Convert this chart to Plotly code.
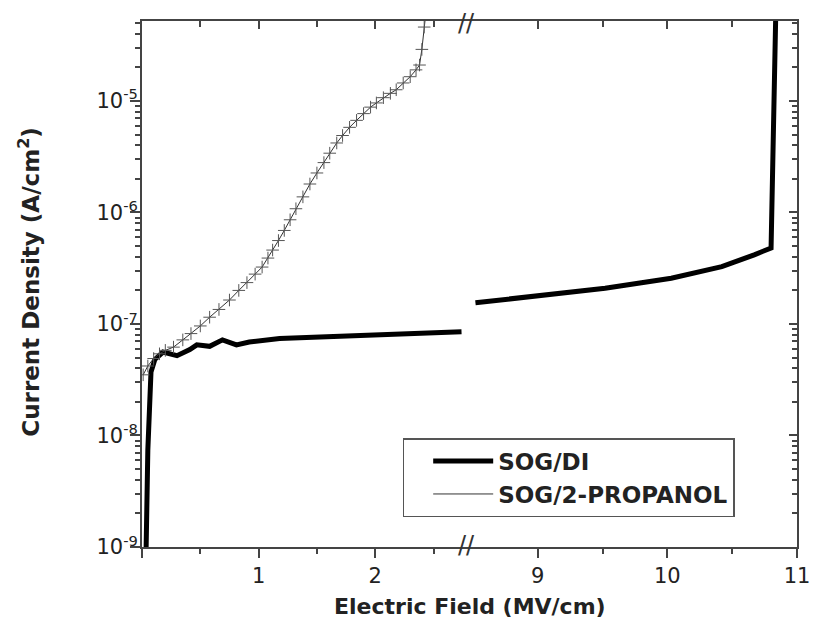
import plotly.graph_objects as go

# ---------------- data ----------------
di_left_x = [0.034, 0.05, 0.077, 0.11, 0.18, 0.30, 0.41, 0.47, 0.58, 0.69, 0.81, 0.92,
             1.18, 1.35, 1.6, 2.2, 2.74]
di_left_y = [8e-10, 7.4e-9, 3.7e-8, 4.8e-8, 5.6e-8, 5.2e-8, 5.9e-8, 6.5e-8, 6.3e-8, 7.2e-8,
             6.5e-8, 6.9e-8, 7.4e-8, 7.5e-8, 7.6e-8, 8.1e-8, 8.5e-8]

di_right_x = [8.52, 9.0, 9.52, 10.03, 10.42, 10.67, 10.80, 10.84]
di_right_y = [1.55e-7, 1.78e-7, 2.09e-7, 2.57e-7, 3.27e-7, 4.17e-7, 4.8e-7, 1e-4]

prop_x = [0.01, 0.05, 0.10, 0.15, 0.20, 0.27, 0.35, 0.42, 0.50, 0.58, 0.66, 0.75, 0.83,
          0.90, 0.97, 1.03, 1.08, 1.12, 1.17, 1.22, 1.27, 1.32, 1.38, 1.44, 1.50, 1.56,
          1.61, 1.67, 1.72, 1.78, 1.84, 1.90, 1.96, 2.01, 2.07, 2.13, 2.18, 2.24, 2.30,
          2.35, 2.38, 2.40, 2.42, 2.44]
prop_y = [3.5e-8, 4.2e-8, 4.9e-8, 5.4e-8, 5.8e-8, 6.2e-8, 7.2e-8, 8.2e-8, 9.6e-8, 1.15e-7,
          1.35e-7, 1.64e-7, 2.0e-7, 2.35e-7, 2.8e-7, 3.24e-7, 3.9e-7, 4.6e-7, 5.6e-7, 6.9e-7,
          8.6e-7, 1.08e-6, 1.38e-6, 1.8e-6, 2.26e-6, 2.8e-6, 3.4e-6, 4.2e-6, 4.9e-6, 5.8e-6,
          6.7e-6, 7.7e-6, 8.8e-6, 9.6e-6, 1.07e-5, 1.17e-5, 1.26e-5, 1.45e-5, 1.65e-5, 1.9e-5,
          2.1e-5, 2.9e-5, 4.6e-5, 7e-5]

x_left_ticks = [0, 1, 2]
x_left_labels = ["", "1", "2"]
x_left_minor = [0.5, 1.5, 2.5]
x_right_ticks = [9, 10, 11]
x_right_labels = ["9", "10", "11"]
x_right_minor = [9.5, 10.5]
y_ticks = [1e-9, 1e-8, 1e-7, 1e-6, 1e-5]
y_labels = ["10<sup>-9</sup>", "10<sup>-8</sup>", "10<sup>-7</sup>", "10<sup>-6</sup>", "10<sup>-5</sup>"]
y_minor = [m * 10 ** e for e in range(-9, -4) for m in range(2, 10)]

# ---------------- figure ----------------
FONT = "DejaVu Sans, Liberation Sans, Arial, sans-serif"
AX = "#444444"
BREAK = 0.496
XL_RANGE = [0, 2.786]
XR_RANGE = [8.454, 11]
Y_RANGE = [-9, -4.283]

fig = go.Figure()

fig.add_trace(go.Scatter(x=di_left_x, y=di_left_y, mode="lines", name="SOG/DI",
                         line=dict(color="black", width=5), xaxis="x", yaxis="y",
                         legendgroup="di"))
fig.add_trace(go.Scatter(x=di_right_x, y=di_right_y, mode="lines", name="SOG/DI",
                         line=dict(color="black", width=5), xaxis="x2", yaxis="y",
                         legendgroup="di", showlegend=False))
fig.add_trace(go.Scatter(x=prop_x, y=prop_y, mode="lines", name="SOG/2-PROPANOL",
                         line=dict(color="#333333", width=1), xaxis="x", yaxis="y"))
# markers of the same series, drawn through the (identical) mirrored top axis
fig.add_trace(go.Scatter(x=prop_x, y=prop_y, mode="markers", name="SOG/2-PROPANOL",
                         marker=dict(symbol="cross-thin", size=9,
                                     line=dict(color="#555555", width=1)),
                         xaxis="x3", yaxis="y", showlegend=False))
# empty trace so the mirrored top-right / right axes are drawn
fig.add_trace(go.Scatter(x=[], y=[], mode="lines", xaxis="x4", yaxis="y2",
                         showlegend=False, hoverinfo="skip"))

tickfont = dict(family=FONT, size=21, color="#222222")
common = dict(showline=True, linecolor=AX, linewidth=2, showgrid=False, zeroline=False,
              tickcolor=AX, tickwidth=1.5)

# page body adds an 8px offset, so the figure is shrunk by 8px and margins shifted
fig.update_layout(
    width=814, height=620,
    margin=dict(l=134, r=23, t=13, b=81),
    paper_bgcolor="white", plot_bgcolor="white",
    xaxis=dict(domain=[0, BREAK], range=XL_RANGE, anchor="y",
               tickmode="array", tickvals=x_left_ticks, ticktext=x_left_labels,
               ticks="outside", ticklen=9, tickfont=tickfont,
               minor=dict(tickmode="array", tickvals=x_left_minor, ticks="outside",
                          ticklen=5, tickcolor=AX, showgrid=False),
               **common),
    xaxis2=dict(domain=[BREAK, 1], range=XR_RANGE, anchor="y",
                tickmode="array", tickvals=x_right_ticks, ticktext=x_right_labels,
                ticks="outside", ticklen=9, tickfont=tickfont,
                minor=dict(tickmode="array", tickvals=x_right_minor, ticks="outside",
                           ticklen=5, tickcolor=AX, showgrid=False),
                **common),
    xaxis3=dict(overlaying="x", side="top", anchor="y", range=XL_RANGE,
                tickmode="array", tickvals=x_left_ticks, ticks="inside", ticklen=8,
                showticklabels=False,
                minor=dict(tickmode="array", tickvals=x_left_minor, ticks="inside",
                           ticklen=6, tickcolor=AX, showgrid=False),
                **common),
    xaxis4=dict(overlaying="x2", side="top", anchor="y2", range=XR_RANGE,
                tickmode="array", tickvals=x_right_ticks, ticks="inside", ticklen=8,
                showticklabels=False,
                minor=dict(tickmode="array", tickvals=x_right_minor, ticks="inside",
                           ticklen=6, tickcolor=AX, showgrid=False),
                **common),
    yaxis=dict(type="log", range=Y_RANGE, anchor="x",
               tickmode="array", tickvals=y_ticks, ticktext=y_labels,
               ticks="outside", ticklen=10, tickfont=tickfont, ticklabelstandoff=-12,
               minor=dict(tickmode="array", tickvals=y_minor, ticks="outside",
                          ticklen=5, tickcolor=AX, showgrid=False),
               **common),
    yaxis2=dict(type="log", range=Y_RANGE, overlaying="y", side="right", anchor="x2",
                tickmode="array", tickvals=y_ticks, ticks="inside", ticklen=8,
                showticklabels=False,
                minor=dict(tickmode="array", tickvals=y_minor, ticks="inside",
                           ticklen=5, tickcolor=AX, showgrid=False),
                **common),
    legend=dict(x=0.398, y=0.207, xanchor="left", yanchor="top",
                bgcolor="white", bordercolor="#555555", borderwidth=1.5,
                font=dict(family=FONT, size=23, color="#222222", weight="bold"),
                itemwidth=60, indentation=24, tracegroupgap=0),
    showlegend=True,
)

# axis titles
fig.add_annotation(text="<b>Electric Field (MV/cm)</b>", xref="paper", yref="paper",
                   x=0.5, y=-0.114, xanchor="center", yanchor="middle", showarrow=False,
                   font=dict(family=FONT, size=22, color="#222222"))
fig.add_annotation(text="<b>Current Density (A/cm<sup>2</sup>)</b>", xref="paper", yref="paper",
                   x=-0.172, y=0.505, xanchor="center", yanchor="middle", showarrow=False,
                   textangle=-90, font=dict(family=FONT, size=23, color="#222222"))

# axis-break marks
for yy in (0.003, 0.997):
    fig.add_annotation(text="//", xref="paper", yref="paper", x=BREAK, y=yy,
                       xanchor="center", yanchor="middle", showarrow=False,
                       font=dict(family=FONT, size=24, color="#333333"))

fig.write_html("out.html")
